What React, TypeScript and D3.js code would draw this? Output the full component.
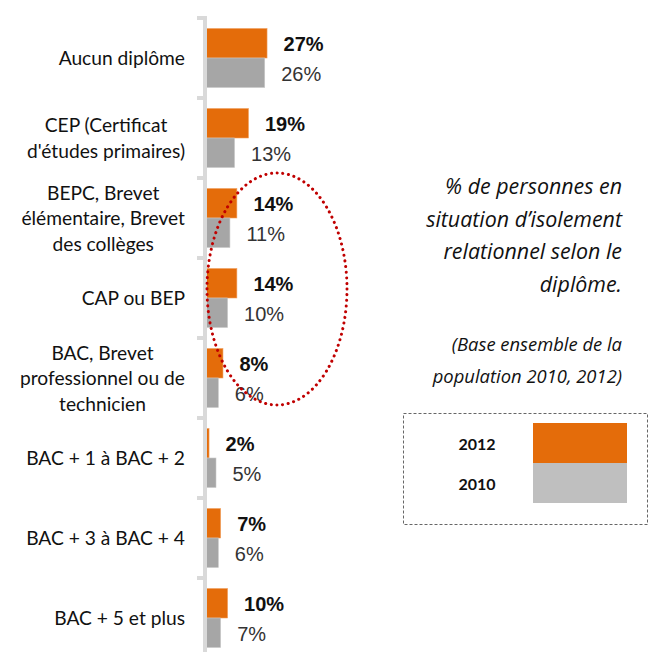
import React, { useEffect, useRef } from "react";
import * as d3 from "d3";

// diplomas, top to bottom ("\n" = line break in the axis label)
const categories = [
  "Aucun diplôme",
  "CEP (Certificat\nd'études primaires)",
  "BEPC, Brevet\nélémentaire, Brevet\ndes collèges",
  "CAP ou BEP",
  "BAC, Brevet\nprofessionnel ou de\ntechnicien",
  "BAC + 1 à BAC + 2",
  "BAC + 3 à BAC + 4",
  "BAC + 5 et plus",
];
const series = ["2012", "2010"];
const values2012 = [27, 19, 14, 14, 8, 2, 7, 10];
const values2010 = [26, 13, 11, 10, 6, 5, 6, 7];
const titleLines = [
  "% de personnes en",
  "situation d\u2019isolement",
  "relationnel selon le",
  "diplôme.",
];
const noteLines = ["(Base ensemble de la", "population 2010, 2012)"];

const ORANGE = "#E46C0A";
const GREY = "#A6A6A6";
const GREY_LEGEND = "#BFBFBF";
const SANS = "Lato, 'Liberation Sans', sans-serif";
const ARIAL = "'Liberation Sans', Arial, sans-serif";
const ITALIC = "'Open Sans', Lato, sans-serif";

const App = () => {
  const svgRef = useRef<SVGSVGElement>(null);

  useEffect(() => {
    const svg = d3.select(svgRef.current);
    svg.selectAll("*").remove();

    const y = d3.scaleBand().domain(categories).range([18, 658]).padding(0);
    const ySub = d3.scaleBand().domain(series).range([10.5, 69.5]).padding(0);
    const x = d3.scaleLinear().domain([0, 100]).range([204.4, 436.4]);

    const rows = categories.map((c, i) => ({ c, v: [values2012[i], values2010[i]] }));

    // bars
    const g = svg.append("g");
    rows.forEach((r) => {
      series.forEach((s, j) => {
        const y0 = (y(r.c) as number) + (ySub(s) as number);
        g.append("rect")
          .attr("x", x(0))
          .attr("y", y0)
          .attr("width", x(r.v[j]) - x(0))
          .attr("height", ySub.bandwidth())
          .attr("fill", j === 0 ? ORANGE : GREY)
          .attr("stroke", j === 0 ? "#F0A060" : "#C8C8C8")
          .attr("stroke-width", 0.6);
        g.append("text")
          .attr("x", x(r.v[j]) + 16.5)
          .attr("y", y0 + ySub.bandwidth() / 2 + 8)
          .attr("font-family", ARIAL)
          .attr("font-size", 20)
          .attr("font-weight", j === 0 ? "bold" : "normal")
          .attr("fill", j === 0 ? "#111" : "#333")
          .text(`${r.v[j]}%`);
      });
    });

    // vertical axis with tick stubs
    const ax = svg.append("g");
    ax.append("line")
      .attr("x1", 205).attr("x2", 205)
      .attr("y1", 16).attr("y2", 660)
      .attr("stroke", "#D9D9D9").attr("stroke-width", 4);
    const ticks = categories.map((c) => y(c) as number).concat([658]);
    ax.selectAll(".tick")
      .data(ticks)
      .enter().append("line")
      .attr("x1", 197).attr("x2", 205)
      .attr("y1", (d) => d).attr("y2", (d) => d)
      .attr("stroke", "#D9D9D9").attr("stroke-width", 4);

    // category labels: lines centred within a block right-aligned at x=185
    const lh = 25.5;
    rows.forEach((r) => {
      const lines = r.c.split("\n");
      const cy = (y(r.c) as number) + y.bandwidth() / 2;
      const t = svg.append("text")
        .attr("font-family", SANS)
        .attr("font-size", 19.2)
        .attr("fill", "#111")
        .attr("text-anchor", "middle");
      const spans = lines.map((l, k) =>
        t.append("tspan")
          .attr("y", cy - ((lines.length - 1) / 2) * lh + 7 + k * lh)
          .text(l)
      );
      const w = d3.max(spans, (s) => (s.node() as SVGTSpanElement).getComputedTextLength()) || 0;
      spans.forEach((s) => s.attr("x", 185 - w / 2));
    });

    // highlight ellipse
    svg.append("ellipse")
      .attr("cx", 277).attr("cy", 289)
      .attr("rx", 70).attr("ry", 116)
      .attr("fill", "none")
      .attr("stroke", "#C00000")
      .attr("stroke-width", 3)
      .attr("stroke-linecap", "round")
      .attr("stroke-dasharray", "0.1 5.6");

    // title block
    svg.append("g").selectAll("text")
      .data(titleLines)
      .enter().append("text")
      .attr("x", 622)
      .attr("y", (d, i) => 194 + i * 32.5)
      .attr("text-anchor", "end")
      .attr("font-family", ITALIC)
      .attr("font-style", "italic")
      .attr("font-size", 21.4)
      .attr("fill", "#111")
      .text((d) => d);
    svg.append("g").selectAll("text")
      .data(noteLines)
      .enter().append("text")
      .attr("x", 622)
      .attr("y", (d, i) => 351 + i * 32)
      .attr("text-anchor", "end")
      .attr("font-family", ITALIC)
      .attr("font-style", "italic")
      .attr("font-size", 18.4)
      .attr("fill", "#111")
      .text((d) => d);

    // legend
    const lg = svg.append("g");
    lg.append("rect")
      .attr("x", 403.5).attr("y", 413.5)
      .attr("width", 244).attr("height", 111)
      .attr("fill", "none")
      .attr("stroke", "#666")
      .attr("stroke-width", 1)
      .attr("stroke-dasharray", "3 2");
    series.forEach((s, j) => {
      lg.append("rect")
        .attr("x", 533).attr("y", 423 + j * 40)
        .attr("width", 94).attr("height", 40)
        .attr("fill", j === 0 ? ORANGE : GREY_LEGEND);
      lg.append("text")
        .attr("x", 477).attr("y", 450 + j * 40)
        .attr("text-anchor", "middle")
        .attr("font-family", SANS)
        .attr("font-weight", "bold")
        .attr("font-size", 16)
        .attr("fill", "#111")
        .text(s);
    });
  }, []);

  return (
    <svg
      ref={svgRef}
      width={650}
      height={652}
      style={{ position: "absolute", left: 0, top: 0, background: "#fff" }}
    />
  );
};

export default App;
